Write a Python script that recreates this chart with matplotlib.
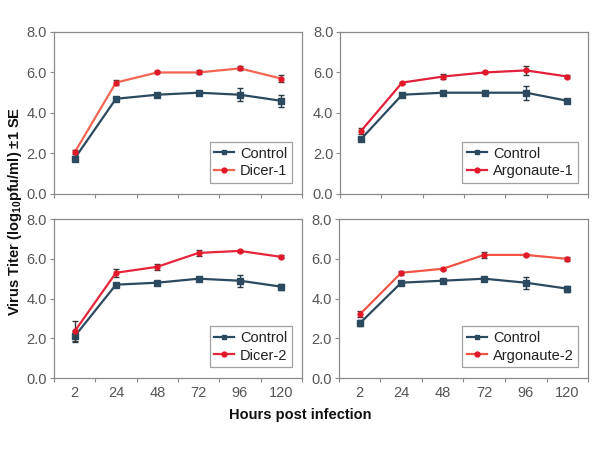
import matplotlib
matplotlib.use("Agg")
import matplotlib.pyplot as plt
from matplotlib.lines import Line2D
import numpy as np

plt.rcParams["font.family"] = ["Liberation Sans", "DejaVu Sans"]
plt.rcParams["mathtext.fontset"] = "custom"
plt.rcParams["mathtext.rm"] = "Liberation Sans"
plt.rcParams["mathtext.bf"] = "Liberation Sans:bold"

hours = ["2", "24", "48", "72", "96", "120"]

# panel 1: Dicer-1
ctrl_1 = [1.75, 4.7, 4.9, 5.0, 4.9, 4.6]
ctrl_1_se = [0.1, 0.05, 0.08, 0.08, 0.32, 0.3]
dicer1 = [2.05, 5.5, 6.0, 6.0, 6.2, 5.7]
dicer1_se = [0.1, 0.12, 0.05, 0.1, 0.1, 0.15]

# panel 2: Argonaute-1
ctrl_2 = [2.7, 4.9, 5.0, 5.0, 5.0, 4.6]
ctrl_2_se = [0.1, 0.05, 0.08, 0.08, 0.35, 0.05]
ago1 = [3.1, 5.5, 5.8, 6.0, 6.1, 5.8]
ago1_se = [0.15, 0.05, 0.1, 0.05, 0.22, 0.05]

# panel 3: Dicer-2
ctrl_3 = [2.1, 4.7, 4.8, 5.0, 4.9, 4.6]
ctrl_3_se = [0.28, 0.05, 0.08, 0.08, 0.3, 0.15]
dicer2 = [2.35, 5.3, 5.6, 6.3, 6.4, 6.1]
dicer2_se = [0.5, 0.2, 0.15, 0.15, 0.05, 0.08]

# panel 4: Argonaute-2
ctrl_4 = [2.75, 4.8, 4.9, 5.0, 4.8, 4.5]
ctrl_4_se = [0.15, 0.05, 0.1, 0.08, 0.3, 0.15]
ago2 = [3.2, 5.3, 5.5, 6.2, 6.2, 6.0]
ago2_se = [0.15, 0.1, 0.05, 0.15, 0.05, 0.1]

panels = [
    (ctrl_1, ctrl_1_se, dicer1, dicer1_se, "Dicer-1", "#f26552"),
    (ctrl_2, ctrl_2_se, ago1, ago1_se, "Argonaute-1", "#e2203a"),
    (ctrl_3, ctrl_3_se, dicer2, dicer2_se, "Dicer-2", "#e6263a"),
    (ctrl_4, ctrl_4_se, ago2, ago2_se, "Argonaute-2", "#f05545"),
]

# axes boxes in figure fractions [left, bottom, width, height]
boxes = [
    [0.090, 0.569, 0.413, 0.360],
    [0.567, 0.569, 0.413, 0.360],
    [0.090, 0.160, 0.413, 0.353],
    [0.565, 0.160, 0.415, 0.353],
]

ctrl_color = "#2b4a5f"
red_marker = "#e01828"
frame = "#8a8a8a"
tick_col = "#555555"

fig = plt.figure(figsize=(6, 4.5), dpi=100)
x = np.arange(len(hours))

for i, (c, cse, t, tse, name, tcol) in enumerate(panels):
    ax = fig.add_axes(boxes[i])
    ax.errorbar(x, c, yerr=cse, color=ctrl_color, ecolor="#2a3a45",
                marker="s", markersize=4, linewidth=1.6, elinewidth=1.0,
                capsize=2, capthick=1.0, zorder=3)
    ax.errorbar(x, t, yerr=tse, color=tcol, ecolor="#3a3a3a",
                marker="o", markersize=3.5, markerfacecolor=red_marker,
                markeredgecolor=red_marker, linewidth=1.6, elinewidth=1.0,
                capsize=2, capthick=1.0, zorder=4)
    ax.set_xlim(-0.5, 5.5)
    ax.set_ylim(0, 8)
    ax.set_yticks([0, 2, 4, 6, 8])
    ax.set_yticklabels(["0.0", "2.0", "4.0", "6.0", "8.0"])
    ax.set_xticks(x)
    ax.set_xticks(np.arange(-0.5, 6, 1), minor=True)
    if i >= 2:
        ax.set_xticklabels(hours)
    else:
        ax.set_xticklabels([])
    ax.tick_params(axis="x", which="major", length=0, pad=6,
                   labelsize=10.5, labelcolor=tick_col)
    ax.tick_params(axis="x", which="minor", length=3, color=frame, width=0.8)
    ax.tick_params(axis="y", length=3, color=frame, width=0.8,
                   labelsize=10.5, labelcolor=tick_col, pad=2)
    for s in ax.spines.values():
        s.set_color(frame)
        s.set_linewidth(0.9)

    handles = [
        Line2D([], [], color=ctrl_color, marker="s", markersize=3.5,
               linewidth=1.6),
        Line2D([], [], color=tcol, marker="o", markersize=3.5,
               markerfacecolor=red_marker, markeredgecolor=red_marker,
               linewidth=1.6),
    ]
    leg = ax.legend(handles, ["Control", name], loc="lower right",
                    bbox_to_anchor=(0.96, 0.07), fontsize=10.5, frameon=True,
                    fancybox=False, edgecolor=frame, handlelength=1.4,
                    borderpad=0.3, labelspacing=0.25, handletextpad=0.4,
                    borderaxespad=0.0)
    leg.get_frame().set_linewidth(0.9)
    for txt in leg.get_texts():
        txt.set_color("#222222")

fig.text(0.025, 0.53, r"Virus Titer (log$_{\mathbf{10}}$pfu/ml) ±1 SE",
         rotation=90, ha="center", va="center", fontsize=10.5,
         fontweight="bold", color="#111111")
fig.text(0.5, 0.077, "Hours post infection", ha="center", va="center",
         fontsize=10.5, fontweight="bold", color="#111111")

fig.savefig("out.png", dpi=100, facecolor="white")
